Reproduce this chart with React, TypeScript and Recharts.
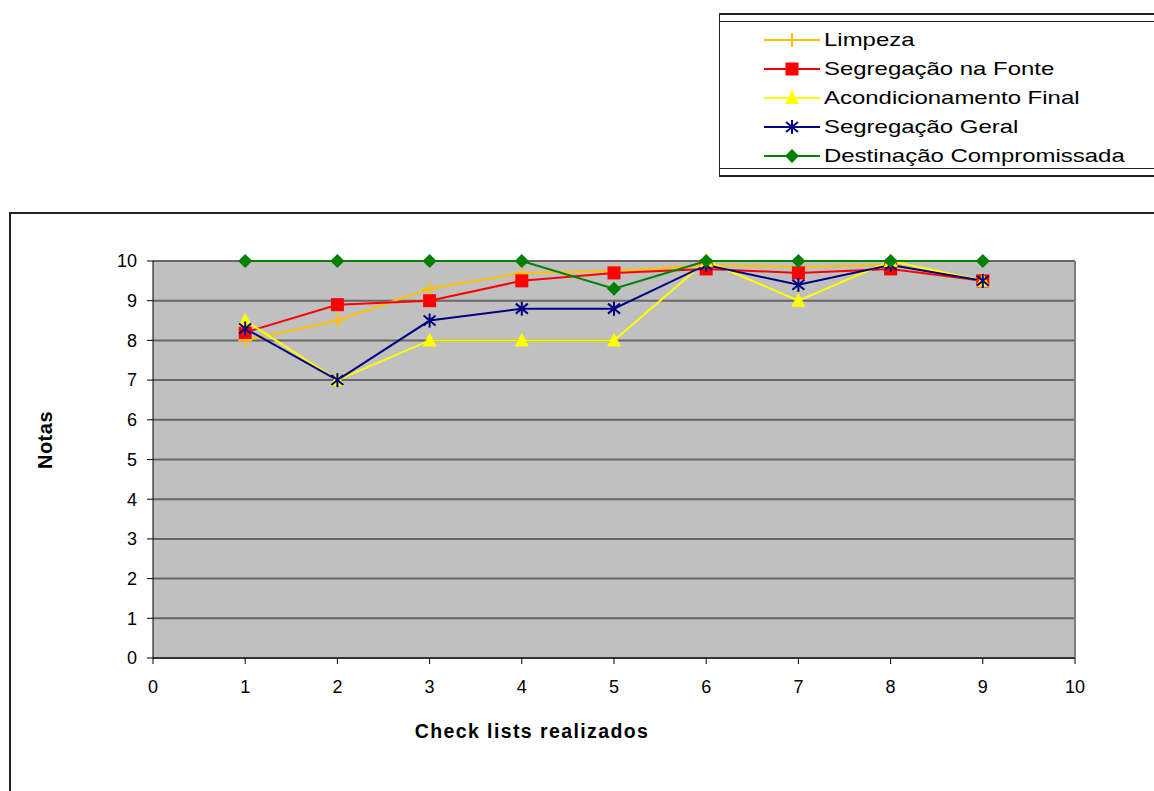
import { LineChart, Line, XAxis, YAxis, CartesianGrid, ReferenceLine } from 'recharts'

const checklists = [1, 2, 3, 4, 5, 6, 7, 8, 9]
const limpeza = [8.0, 8.5, 9.3, 9.7, 9.75, 9.9, 9.85, 9.9, 9.5]
const segregacaoFonte = [8.2, 8.9, 9.0, 9.5, 9.7, 9.8, 9.7, 9.8, 9.5]
const acondicionamento = [8.5, 7.0, 8.0, 8.0, 8.0, 10, 9.0, 10, 9.5]
const segregacaoGeral = [8.3, 7.0, 8.5, 8.8, 8.8, 9.9, 9.4, 9.9, 9.5]
const destinacao = [10, 10, 10, 10, 9.3, 10, 10, 10, 10]
const ticks = [0, 1, 2, 3, 4, 5, 6, 7, 8, 9, 10]

const data = checklists.map((x, i) => ({
    x,
    limpeza: limpeza[i],
    fonte: segregacaoFonte[i],
    acond: acondicionamento[i],
    geral: segregacaoGeral[i],
    dest: destinacao[i],
}))

type Shape = 'plus' | 'square' | 'triangle' | 'star' | 'diamond'

const series: { key: string; name: string; color: string; shape: Shape }[] = [
    { key: 'limpeza', name: 'Limpeza', color: '#FFC000', shape: 'plus' },
    { key: 'fonte', name: 'Segregação na Fonte', color: '#FF0000', shape: 'square' },
    { key: 'acond', name: 'Acondicionamento Final', color: '#FFFF00', shape: 'triangle' },
    { key: 'geral', name: 'Segregação Geral', color: '#000080', shape: 'star' },
    { key: 'dest', name: 'Destinação Compromissada', color: '#008000', shape: 'diamond' },
]

function Marker({ cx, cy, shape, color }: { cx: number; cy: number; shape: Shape; color: string }) {
    if (shape === 'plus') {
        return (
            <g stroke={color} strokeWidth={2}>
                <line x1={cx - 7} y1={cy} x2={cx + 7} y2={cy} />
                <line x1={cx} y1={cy - 7} x2={cx} y2={cy + 7} />
            </g>
        )
    }
    if (shape === 'square') {
        return <rect x={cx - 6.5} y={cy - 6.5} width={13} height={13} fill={color} />
    }
    if (shape === 'triangle') {
        return <polygon points={`${cx},${cy - 8} ${cx + 7},${cy + 6} ${cx - 7},${cy + 6}`} fill={color} />
    }
    if (shape === 'star') {
        return (
            <g stroke={color} strokeWidth={2}>
                <line x1={cx} y1={cy - 7} x2={cx} y2={cy + 7} />
                <line x1={cx - 6} y1={cy - 5} x2={cx + 6} y2={cy + 5} />
                <line x1={cx - 6} y1={cy + 5} x2={cx + 6} y2={cy - 5} />
            </g>
        )
    }
    return <polygon points={`${cx},${cy - 7} ${cx + 7},${cy} ${cx},${cy + 7} ${cx - 7},${cy}`} fill={color} />
}

const font = '"Liberation Sans", Arial, sans-serif'

export default function App() {
    return (
        <div style={{ position: 'absolute', left: 0, top: 0, width: 1154, height: 791, overflow: 'hidden', background: '#fff', fontFamily: font }}>
            {/* chart frame */}
            <div style={{ position: 'absolute', left: 9, top: 212, width: 1200, height: 700, border: '2px solid #222' }} />

            {/* legend */}
            <div style={{ position: 'absolute', left: 719, top: 13, width: 500, height: 160, borderTop: '2px solid #222', borderBottom: '2px solid #222', borderLeft: '1px solid #222' }}>
                <div style={{ position: 'absolute', left: 0, top: 6, width: 500, height: 146, borderTop: '1px solid #222', borderBottom: '1px solid #222' }} />
                {series.map((s, i) => (
                    <div key={s.key} style={{ position: 'absolute', left: 44, top: 10 + i * 29, height: 29, display: 'flex', alignItems: 'center' }}>
                        <svg width={56} height={20}>
                            <line x1={0} y1={10} x2={56} y2={10} stroke={s.color} strokeWidth={2} />
                            <Marker cx={28} cy={10} shape={s.shape} color={s.color} />
                        </svg>
                        <span style={{ fontSize: 19, marginLeft: 4, color: '#000', whiteSpace: 'nowrap', display: 'inline-block', transform: 'scaleX(1.26)', transformOrigin: 'left center' }}>{s.name}</span>
                    </div>
                ))}
            </div>

            {/* axis titles */}
            <div style={{ position: 'absolute', left: 45, top: 440, transform: 'translate(-50%, -50%) rotate(-90deg)', fontSize: 20, fontWeight: 'bold', letterSpacing: 0.5 }}>Notas</div>
            <div style={{ position: 'absolute', left: 532, top: 731, transform: 'translate(-50%, -50%)', fontSize: 19.5, fontWeight: 'bold', letterSpacing: 1.4, whiteSpace: 'nowrap' }}>Check lists realizados</div>

            <div style={{ position: 'absolute', left: 0, top: 0 }}>
                <LineChart width={1154} height={791} data={data} margin={{ top: 261, right: 79, bottom: 103, left: 93 }}>
                    <CartesianGrid fill="#C0C0C0" vertical={false} stroke="#666" strokeWidth={2} />
                    <XAxis
                        type="number"
                        dataKey="x"
                        domain={[0, 10]}
                        ticks={ticks}
                        height={30}
                        stroke="#000"
                        tickSize={6}
                        tickMargin={16}
                        tick={{ fill: '#000', fontSize: 18, fontFamily: font }}
                    />
                    <YAxis
                        type="number"
                        domain={[0, 10]}
                        ticks={ticks}
                        width={60}
                        stroke="#000"
                        tickSize={6}
                        tickMargin={10}
                        tick={{ fill: '#000', fontSize: 18, fontFamily: font }}
                    />
                    <ReferenceLine x={10} stroke="#808080" strokeWidth={2} />
                    {series.map((s) => (
                        <Line
                            key={s.key}
                            dataKey={s.key}
                            name={s.name}
                            stroke={s.color}
                            strokeWidth={2}
                            isAnimationActive={false}
                            dot={(p: any) => <Marker key={`${s.key}-${p.index}`} cx={p.cx} cy={p.cy} shape={s.shape} color={s.color} />}
                            activeDot={false}
                        />
                    ))}
                </LineChart>
            </div>
        </div>
    )
}
